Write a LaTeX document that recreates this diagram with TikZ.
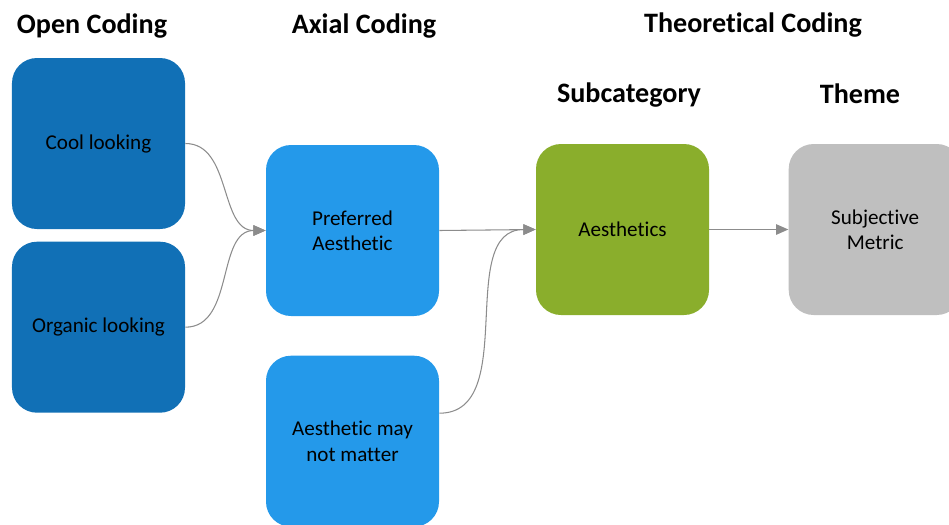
\documentclass[tikz,border=0pt]{standalone}
\usepackage{fontspec}
\setmainfont{Carlito}[Ligatures={NoCommon}]
\usetikzlibrary{arrows.meta, positioning}
\usepackage{xcolor}
\definecolor{opendark}{HTML}{1170B6}
\definecolor{axialblue}{HTML}{2499EA}
\definecolor{subgreen}{HTML}{8AAE2C}
\definecolor{themegray}{HTML}{BFBFBF}
\definecolor{linkgray}{HTML}{8C8C8C}

\begin{document}
\begin{tikzpicture}[
    code/.style={rectangle, rounded corners=0.5cm,
                 minimum width=3.46cm, minimum height=3.42cm,
                 font=\fontsize{12}{14.5}\selectfont, text=black, align=center, inner sep=4pt},
    stage/.style={font=\fontsize{16}{19}\selectfont\bfseries, text=black},
    link/.style={-{Triangle[length=7pt, width=6pt]}, color=linkgray, line width=0.6pt},
  ]
    \clip (0,0) rectangle (18.98,-10.5);

    % headings
    \node[stage] (hopen)  at (1.84,-0.52)  {Open Coding};
    \node[stage] (haxial) at (7.28,-0.52)  {Axial Coding};
    \node[stage] (htheo)  at (15.06,-0.5)  {Theoretical Coding};
    \node[stage] (hsub)   at (12.58,-1.9)  {Subcategory};
    \node[stage] (htheme) at (17.2,-1.88)  {Theme};

    % boxes
    \node[code, fill=opendark] (cool) at (1.97,-2.87) {Cool looking};
    \node[code, fill=opendark, below=0.24cm of cool] (organic) {Organic looking};

    \node[code, fill=axialblue] (pref) at (7.05,-4.61) {Preferred\\Aesthetic};
    \node[code, fill=axialblue, below=0.78cm of pref] (may) {Aesthetic may\\not matter};

    \node[code, fill=subgreen] (aest) at (12.45,-4.59) {Aesthetics};
    \node[code, fill=themegray, right=1.58cm of aest] (subj) {Subjective\\Metric};

    % links
    \draw[link] (cool.east) to[out=0, in=180] (pref.west);
    \draw[link] (organic.east) to[out=0, in=180] (pref.west);
    \draw[link] (pref.east) -- (aest.west);
    \draw[link] ([yshift=0.56cm]may.east) to[out=0, in=180] (aest.west);
    \draw[link] (aest.east) -- (subj.west);
  \end{tikzpicture}
\end{document}
